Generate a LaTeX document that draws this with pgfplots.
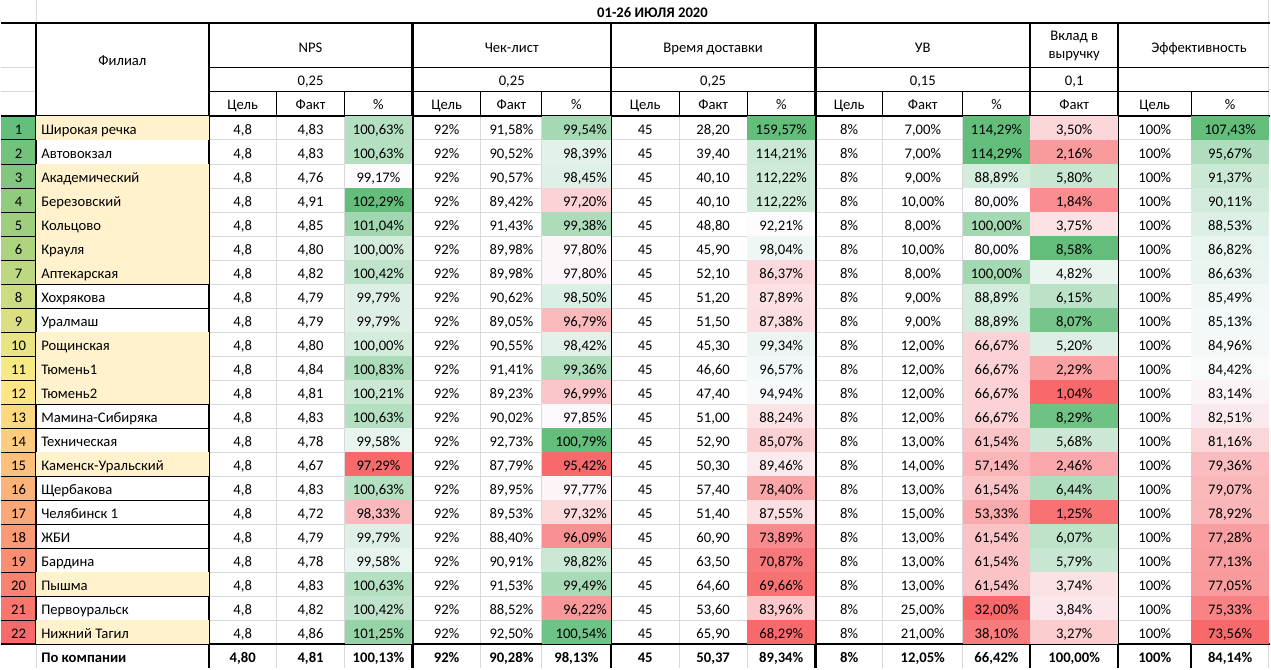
\documentclass[border=0pt]{standalone}
\usepackage{pgfplots}
\pgfplotsset{compat=1.18}
\usepackage{pgfplotstable}
\usepackage{fontspec}
\setmainfont{Carlito}
\newcommand\fs{\fontsize{14.67}{17.6}\selectfont}
\definecolor{gridgray}{RGB}{217,217,217}
\definecolor{nameyel}{RGB}{255,242,204}
\pgfdeclareplotmark{cell}{\pgfpathrectangle{\pgfpoint{-0.5pt}{-12.1pt}}{\pgfpoint{1pt}{24.2pt}}\pgfusepathqfill}
\pgfkeys{/pgf/number format/assume math mode=true}
\tikzset{hdr/.style={anchor=base, font=\fs, inner sep=0pt, text=black}}
\pgfplotsset{
 colormap={cmRow}{rgb255(0)=(99,190,123) rgb255(500)=(255,235,132) rgb255(1000)=(248,105,107)},
 colormap={cmRWG}{rgb255(0)=(248,105,107) rgb255(500)=(252,252,255) rgb255(1000)=(99,190,123)},
 tbl/.style={scale only axis, width=1271pt, height=669pt,
  xmin=0, xmax=1271, ymin=0, ymax=669, y dir=reverse, hide axis, clip=false},
}

\pgfplotstableread{
r name npsT npsF npsP clT clF clP vdT vdF vdP uvT uvF uvP vk efT efP hl
1 {Широкая речка} 4.8 4.83 100.63 92 91.58 99.54 45 28.20 159.57 8 7.00 114.29 3.50 100 107.43 1
2 {Автовокзал} 4.8 4.83 100.63 92 90.52 98.39 45 39.40 114.21 8 7.00 114.29 2.16 100 95.67 0
3 {Академический} 4.8 4.76 99.17 92 90.57 98.45 45 40.10 112.22 8 9.00 88.89 5.80 100 91.37 1
4 {Березовский} 4.8 4.91 102.29 92 89.42 97.20 45 40.10 112.22 8 10.00 80.00 1.84 100 90.11 1
5 {Кольцово} 4.8 4.85 101.04 92 91.43 99.38 45 48.80 92.21 8 8.00 100.00 3.75 100 88.53 1
6 {Крауля} 4.8 4.80 100.00 92 89.98 97.80 45 45.90 98.04 8 10.00 80.00 8.58 100 86.82 1
7 {Аптекарская} 4.8 4.82 100.42 92 89.98 97.80 45 52.10 86.37 8 8.00 100.00 4.82 100 86.63 1
8 {Хохрякова} 4.8 4.79 99.79 92 90.62 98.50 45 51.20 87.89 8 9.00 88.89 6.15 100 85.49 0
9 {Уралмаш} 4.8 4.79 99.79 92 89.05 96.79 45 51.50 87.38 8 9.00 88.89 8.07 100 85.13 0
10 {Рощинская} 4.8 4.80 100.00 92 90.55 98.42 45 45.30 99.34 8 12.00 66.67 5.20 100 84.96 1
11 {Тюмень1} 4.8 4.84 100.83 92 91.41 99.36 45 46.60 96.57 8 12.00 66.67 2.29 100 84.42 1
12 {Тюмень2} 4.8 4.81 100.21 92 89.23 96.99 45 47.40 94.94 8 12.00 66.67 1.04 100 83.14 1
13 {Мамина-Сибиряка} 4.8 4.83 100.63 92 90.02 97.85 45 51.00 88.24 8 12.00 66.67 8.29 100 82.51 0
14 {Техническая} 4.8 4.78 99.58 92 92.73 100.79 45 52.90 85.07 8 13.00 61.54 5.68 100 81.16 0
15 {Каменск-Уральский} 4.8 4.67 97.29 92 87.79 95.42 45 50.30 89.46 8 14.00 57.14 2.46 100 79.36 1
16 {Щербакова} 4.8 4.83 100.63 92 89.95 97.77 45 57.40 78.40 8 13.00 61.54 6.44 100 79.07 0
17 {Челябинск 1} 4.8 4.72 98.33 92 89.53 97.32 45 51.40 87.55 8 15.00 53.33 1.25 100 78.92 0
18 {ЖБИ} 4.8 4.79 99.79 92 88.40 96.09 45 60.90 73.89 8 13.00 61.54 6.07 100 77.28 0
19 {Бардина} 4.8 4.78 99.58 92 90.91 98.82 45 63.50 70.87 8 13.00 61.54 5.79 100 77.13 0
20 {Пышма} 4.8 4.83 100.63 92 91.53 99.49 45 64.60 69.66 8 13.00 61.54 3.74 100 77.05 1
21 {Первоуральск} 4.8 4.82 100.42 92 88.52 96.22 45 53.60 83.96 8 25.00 32.00 3.84 100 75.33 0
22 {Нижний Тагил} 4.8 4.86 101.25 92 92.50 100.54 45 65.90 68.29 8 21.00 38.10 3.27 100 73.56 1
}\data

\pgfplotstableread{
r name npsT npsF npsP clT clF clP vdT vdF vdP uvT uvF uvP vk efT efP
23 {По компании} 4.80 4.81 100.13 92 90.28 98.13 45 50.37 89.34 8 12.05 66.42 100.00 100 84.14
}\totals

% fill: x, width, column, min, mid, max  (red - white - green scale)
\newcommand\fillcol[6]{\addplot[scatter, only marks, mark=cell, mark options={xscale=#2},
  point meta={ifthenelse(\thisrow{#3}<#5, 0.5*(\thisrow{#3}-#4)/(#5-#4), 0.5+0.5*(\thisrow{#3}-#5)/(#6-#5))},
  scatter/use mapped color={fill=mapped color, draw=none}]
  table[x expr=#1, y expr=24.05*\thisrow{r}+103.675]{\data};}
% text: [node style] x, column, number format, suffix, table
\newcommand\txtcol[6][anchor=base]{\addplot[draw=none, mark=none, point meta=explicit, nodes near coords={\pgfmathprintnumber[#4]{\pgfplotspointmeta}#5}, every node near coord/.append style={#1}] table[x expr=#2, y expr=24.05*\thisrow{r}+110.4, meta=#3]{#6};}

\begin{document}
\begin{tikzpicture}
% ---- row-number column (green-yellow-red scale)
\begin{axis}[tbl, colormap name=cmRow, point meta min=1, point meta max=22]
\addplot[scatter, only marks, mark=cell, mark options={xscale=35}, point meta=\thisrow{r},
  scatter/use mapped color={fill=mapped color, draw=none}]
  table[x expr=17.5, y expr=24.05*\thisrow{r}+103.675]{\data};
\end{axis}
\begin{axis}[tbl, colormap name=cmRWG, point meta min=0, point meta max=1,
  every node near coord/.append style={font=\fs, text=black, inner sep=0pt}]
% ---- cell fills
\addplot[only marks, mark=cell, mark options={xscale=173, fill=nameyel, draw=none},
  restrict expr to domain={\thisrow{hl}}{0.5:1.5}]
  table[x expr=121.5, y expr=24.05*\thisrow{r}+103.675]{\data};
\fillcol{378}{68}{npsP}{97.29}{99.17}{102.29}
\fillcol{576.35}{69.3}{clP}{95.42}{97.9}{100.79}
\fillcol{781.5}{68.4}{vdP}{68.29}{92.21}{159.57}
\fillcol{997.15}{67.7}{uvP}{32}{80}{114.29}
\fillcol{1075}{88}{vk}{1.04}{4.33}{8.58}
\fillcol{1231.15}{77.7}{efP}{73.56}{83.78}{107.43}
% ---- light gridlines
\pgfplotsinvokeforeach{276,344,480.7,541.7,679.3,747.3,883.3,963.3}{\draw[gridgray,line width=1pt] (#1,115.7) -- (#1,669);}
\draw[gridgray,line width=1pt] (1192.3,115.7) -- (1192.3,644.8);
\draw[gridgray,line width=1pt] (35,0) -- (35,22.7) (35,644.8) -- (35,669) (1270,0) -- (1270,669)
  (0,67.3) -- (35,67.3) (0,91.3) -- (35,91.3);
\pgfplotsinvokeforeach{1,...,21}{\draw[gridgray,line width=1pt] (208,{115.7+24.05*#1}) -- (1270,{115.7+24.05*#1});}
% ---- thin black borders
\pgfplotsinvokeforeach{1,...,21}{\draw[black,line width=1pt] (0,{115.7+24.05*#1}) -- (208,{115.7+24.05*#1});}
\draw[black,line width=1pt] (208,67.3) -- (1270,67.3) (208,91.3) -- (1270,91.3);
\pgfplotsinvokeforeach{276,344,480.7,541.7,679.3,747.3,883.3,963.3,1192.3}{\draw[black,line width=1pt] (#1,91.3) -- (#1,115.7);}
\draw[black,line width=2pt] (1192.3,644.8) -- (1192.3,669);
% ---- thick black borders
\draw[black,line width=2.3pt] (0,22.7) -- (1271,22.7) (0,115.7) -- (1271,115.7) (0,644.8) -- (1271,644.8);
\pgfplotsinvokeforeach{208,412,611,815.7,1031,1119}{\draw[black,line width=2.3pt] (#1,22.7) -- (#1,669);}
\draw[black,line width=2.3pt] (35,22.7) -- (35,644.8);
% ---- data texts
\txtcol{17.5}{r}{fixed,precision=0}{}{\data}
\addplot[draw=none, mark=none, point meta=explicit symbolic, nodes near coords, every node near coord/.append style={anchor=base west}] table[x expr=40, y expr=24.05*\thisrow{r}+110.4, meta=name]{\data};
\txtcol{242}{npsT}{fixed,precision=1,use comma}{}{\data}
\txtcol{310}{npsF}{fixed,fixed zerofill,precision=2,use comma}{}{\data}
\txtcol{378}{npsP}{fixed,fixed zerofill,precision=2,use comma}{\%}{\data}
\txtcol{446.3}{clT}{fixed,precision=0}{\%}{\data}
\txtcol{511.2}{clF}{fixed,fixed zerofill,precision=2,use comma}{\%}{\data}
\txtcol[anchor=base east]{607}{clP}{fixed,fixed zerofill,precision=2,use comma}{\%}{\data}
\txtcol{645.2}{vdT}{fixed,precision=0}{}{\data}
\txtcol{713.3}{vdF}{fixed,fixed zerofill,precision=2,use comma}{}{\data}
\txtcol{781.5}{vdP}{fixed,fixed zerofill,precision=2,use comma}{\%}{\data}
\txtcol{849.5}{uvT}{fixed,precision=0}{\%}{\data}
\txtcol{923.3}{uvF}{fixed,fixed zerofill,precision=2,use comma}{\%}{\data}
\txtcol{997.2}{uvP}{fixed,fixed zerofill,precision=2,use comma}{\%}{\data}
\txtcol{1075}{vk}{fixed,fixed zerofill,precision=2,use comma}{\%}{\data}
\txtcol{1155.7}{efT}{fixed,precision=0}{\%}{\data}
\txtcol{1231.2}{efP}{fixed,fixed zerofill,precision=2,use comma}{\%}{\data}
% ---- totals row (bold)
\addplot[draw=none, mark=none, point meta=explicit symbolic, nodes near coords, every node near coord/.append style={anchor=base west, font=\fs\bfseries}] table[x expr=40, y expr=24.05*\thisrow{r}+110.4, meta=name]{\totals};
\txtcol[anchor=base, font=\fs\bfseries]{242}{npsT}{fixed,fixed zerofill,precision=2,use comma}{}{\totals}
\txtcol[anchor=base, font=\fs\bfseries]{310}{npsF}{fixed,fixed zerofill,precision=2,use comma}{}{\totals}
\txtcol[anchor=base, font=\fs\bfseries]{378}{npsP}{fixed,fixed zerofill,precision=2,use comma}{\%}{\totals}
\txtcol[anchor=base, font=\fs\bfseries]{446.3}{clT}{fixed,precision=0}{\%}{\totals}
\txtcol[anchor=base, font=\fs\bfseries]{511.2}{clF}{fixed,fixed zerofill,precision=2,use comma}{\%}{\totals}
\txtcol[anchor=base, font=\fs\bfseries]{576.3}{clP}{fixed,fixed zerofill,precision=2,use comma}{\%}{\totals}
\txtcol[anchor=base, font=\fs\bfseries]{645.2}{vdT}{fixed,precision=0}{}{\totals}
\txtcol[anchor=base, font=\fs\bfseries]{713.3}{vdF}{fixed,fixed zerofill,precision=2,use comma}{}{\totals}
\txtcol[anchor=base, font=\fs\bfseries]{781.5}{vdP}{fixed,fixed zerofill,precision=2,use comma}{\%}{\totals}
\txtcol[anchor=base, font=\fs\bfseries]{849.5}{uvT}{fixed,precision=0}{\%}{\totals}
\txtcol[anchor=base, font=\fs\bfseries]{923.3}{uvF}{fixed,fixed zerofill,precision=2,use comma}{\%}{\totals}
\txtcol[anchor=base, font=\fs\bfseries]{997.2}{uvP}{fixed,fixed zerofill,precision=2,use comma}{\%}{\totals}
\txtcol[anchor=base, font=\fs\bfseries]{1075}{vk}{fixed,fixed zerofill,precision=2,use comma}{\%}{\totals}
\txtcol[anchor=base, font=\fs\bfseries]{1155.7}{efT}{fixed,precision=0}{\%}{\totals}
\txtcol[anchor=base, font=\fs\bfseries]{1231.2}{efP}{fixed,fixed zerofill,precision=2,use comma}{\%}{\totals}
% ---- headers
\node[hdr, font=\fs\bfseries] at (652.5,16.6) {01-26 ИЮЛЯ 2020};
\node[hdr] at (121.5,65) {Филиал};
\node[hdr] at (310,52.3) {NPS};
\node[hdr] at (511.5,52.3) {Чек-лист};
\node[hdr] at (713.3,52.3) {Время доставки};
\node[hdr] at (923.3,52.3) {УВ};
\node[hdr] at (1075,40.5) {Вклад в};
\node[hdr] at (1075,58) {выручку};
\node[hdr] at (1200,52.3) {Эффективность};
\node[hdr] at (310,85.3) {0,25};
\node[hdr] at (511.5,85.3) {0,25};
\node[hdr] at (713.3,85.3) {0,25};
\node[hdr] at (923.3,85.3) {0,15};
\node[hdr] at (1075,85.3) {0,1};
\pgfplotsinvokeforeach{242,446.3,645.2,849.5,1155.7}{\node[hdr] at (#1,108.8) {Цель};}
\pgfplotsinvokeforeach{310,511.2,713.3,923.3,1075}{\node[hdr] at (#1,108.8) {Факт};}
\pgfplotsinvokeforeach{378,576.3,781.5,997.2,1231.2}{\node[hdr] at (#1,108.8) {\%};}
\end{axis}
\end{tikzpicture}
\end{document}
